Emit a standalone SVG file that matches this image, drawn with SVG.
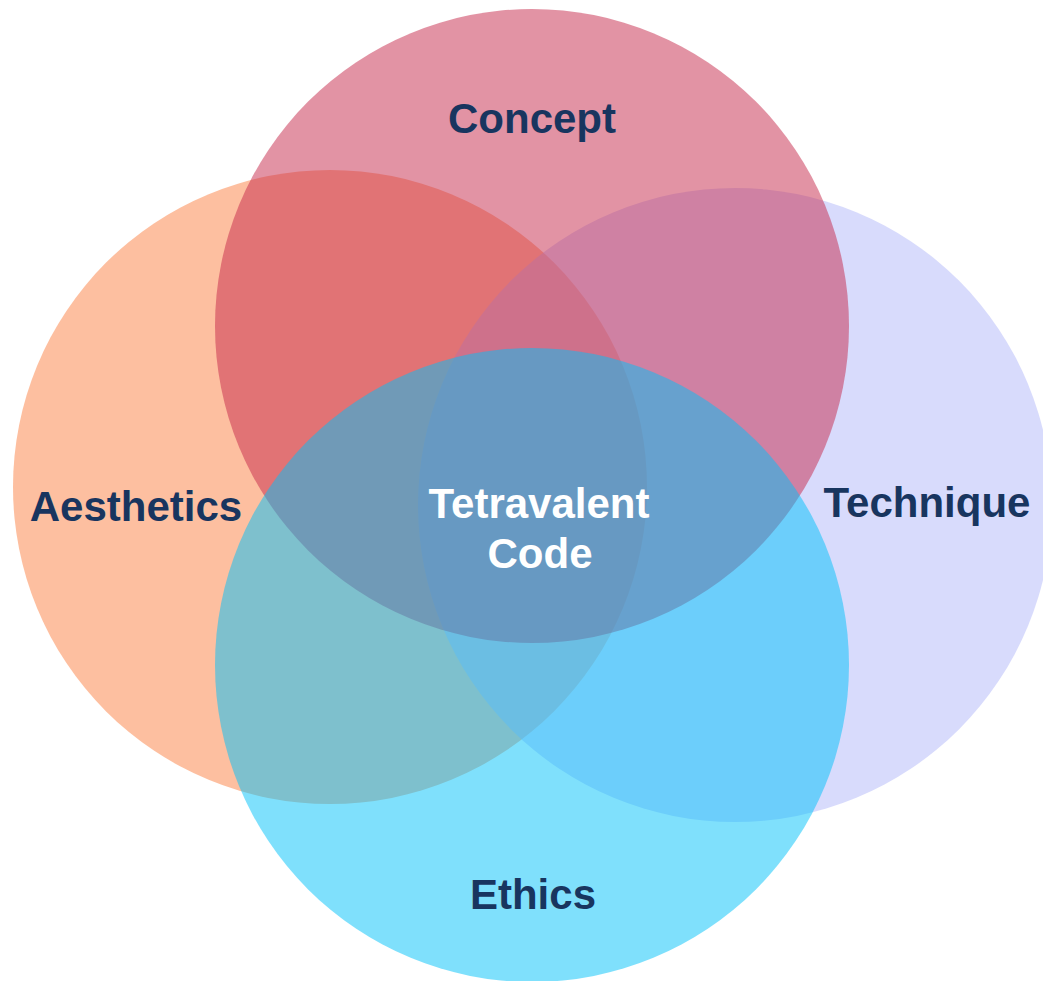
<svg xmlns="http://www.w3.org/2000/svg" width="1043" height="981" viewBox="0 0 1043 981">
<style>
.c{fill-opacity:0.5;stroke:none}
.lbl{font-family:"Liberation Sans",Arial,sans-serif;font-weight:bold;font-size:42px;fill:#18355F;text-anchor:middle}
.ctr{font-family:"Liberation Sans",Arial,sans-serif;font-weight:bold;font-size:42px;fill:#FFFFFF;text-anchor:middle}
</style>
<rect width="1043" height="981" fill="#FFFFFF"/>
<g id="aesthetics"><circle class="c" cx="330" cy="487" r="317" fill="#FB7F41"/></g>
<g id="technique"><circle class="c" cx="735" cy="505" r="317" fill="#B1B7F9"/></g>
<g id="concept"><circle class="c" cx="532" cy="326" r="317" fill="#C52749"/></g>
<g id="ethics"><circle class="c" cx="532" cy="665" r="317" fill="#00C1F9"/></g>
<g id="labels">
<text class="lbl" x="532" y="133">Concept</text>
<text class="lbl" x="136" y="521">Aesthetics</text>
<text class="lbl" x="927" y="517">Technique</text>
<text class="lbl" x="533" y="909">Ethics</text>
</g>
<g id="center"><text class="ctr" x="539" y="518">Tetravalent</text><text class="ctr" x="540" y="568">Code</text></g>
<g id="connectors"/>
</svg>
